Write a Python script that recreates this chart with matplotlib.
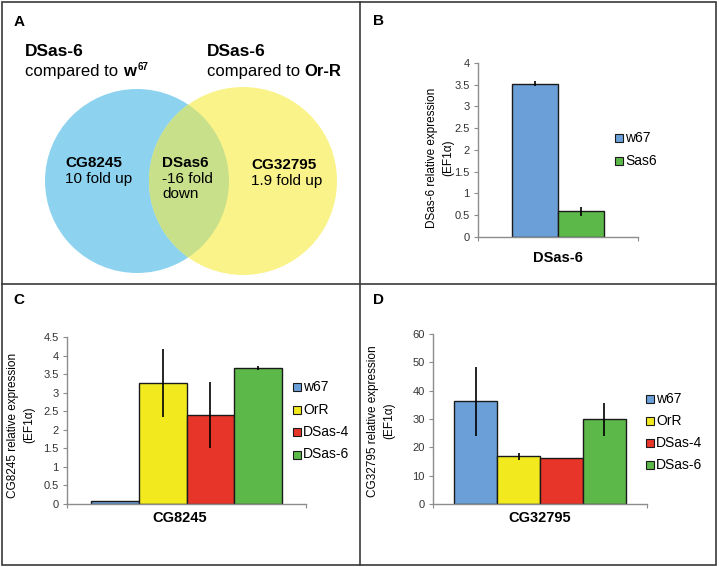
import matplotlib
matplotlib.use("Agg")
import matplotlib.pyplot as plt
from matplotlib.patches import Circle, Rectangle
from matplotlib.ticker import FuncFormatter

plt.rcParams["font.family"] = ["Liberation Sans", "DejaVu Sans"]

W, H = 719, 567

# panel A: Venn labels
venn_left_gene, venn_left_fold = "CG8245", "10 fold up"
venn_mid_gene, venn_mid_fold = "DSas6", "-16 fold\ndown"
venn_right_gene, venn_right_fold = "CG32795", "1.9 fold up"

# panel B
b_labels = ["w67", "Sas6"]
b_values = [3.52, 0.59]
b_errors = [0.06, 0.10]

# panels C and D
cd_labels = ["w67", "OrR", "DSas-4", "DSas-6"]
c_values = [0.08, 3.26, 2.40, 3.66]
c_errors = [0.0, 0.91, 0.90, 0.05]
d_values = [36.3, 16.9, 16.3, 29.9]
d_errors = [12.2, 1.2, 0.0, 5.8]

bar_colors = {"w67": "#6a9fd8", "Sas6": "#5cb848", "OrR": "#f2ea1e",
              "DSas-4": "#e8352a", "DSas-6": "#5cb848"}

fig = plt.figure(figsize=(W / 100, H / 100), dpi=100)
bg = fig.add_axes([0, 0, 1, 1], zorder=0)
bg.set_xlim(0, W)
bg.set_ylim(H, 0)
bg.axis("off")

# frames
border = "#3a3a3a"
bg.add_patch(Rectangle((2, 2), 714, 563, fill=False, lw=1.2, ec=border))
bg.plot([360, 360], [2, 565], color=border, lw=1.2)
bg.plot([2, 716], [284, 284], color=border, lw=1.2)

# panel letters
for letter, (x, y) in {"A": (14, 22), "B": (373, 21), "C": (13, 300), "D": (373, 300)}.items():
    bg.text(x, y, letter, fontsize=11, fontweight="bold", va="center", ha="left")

# Venn circles
blue = Circle((137, 181), 92, fc="#8dd3f0", ec="none")
yellow = Circle((243, 181), 94, fc="#faf38a", ec="none")
bg.add_patch(blue)
bg.add_patch(yellow)
overlap = Circle((243, 181), 94, fc="#c8e08a", ec="none")
bg.add_patch(overlap)
overlap.set_clip_path(blue)

fig.canvas.draw()
renderer = fig.canvas.get_renderer()


def text_run(x, y, parts):
    # draw text pieces one after another on the same baseline
    for s, kw in parts:
        t = bg.text(x, y, s, va="baseline", ha="left", **kw)
        ext = t.get_window_extent(renderer)
        x += ext.width
    return x


bg.text(25, 56, "DSas-6", fontsize=12.5, fontweight="bold", va="baseline")
xe = text_run(25, 76, [("compared to ", dict(fontsize=12)), ("w", dict(fontsize=12, fontweight="bold"))])
bg.text(xe + 2, 70, "67", fontsize=7, fontweight="bold", va="baseline")
bg.text(207, 56, "DSas-6", fontsize=12.5, fontweight="bold", va="baseline")
text_run(207, 76, [("compared to ", dict(fontsize=12)), ("Or-R", dict(fontsize=12, fontweight="bold"))])

for (gene, fold), x, y in [((venn_left_gene, venn_left_fold), 65, 163),
                           ((venn_mid_gene, venn_mid_fold), 162, 163),
                           ((venn_right_gene, venn_right_fold), 251, 165)]:
    bg.text(x, y, gene, fontsize=11, fontweight="bold", va="center", ha="left")
    bg.text(x, y + 9, fold, fontsize=11, va="top", ha="left", linespacing=1.1)


def bar_panel(box, labels, values, errors, ymax, ystep, ylabel, ylabel_xy, xlabel, xlabel_xy,
              leg_x, leg_y0, leg_dy):
    x0, y0, x1, y1 = box
    ax = fig.add_axes([x0 / W, 1 - y1 / H, (x1 - x0) / W, (y1 - y0) / H], zorder=1)
    ax.set_facecolor("none")
    n = len(values)
    width = 0.80 / n if n > 2 else 0.2875
    xs = [0.5 + (i - (n - 1) / 2) * width for i in range(n)]
    cols = [bar_colors[l] for l in labels]
    ax.bar(xs, values, width=width, color=cols, edgecolor="#1a1a1a", linewidth=1.0, zorder=2)
    ax.errorbar(xs, values, yerr=errors, fmt="none", ecolor="black", elinewidth=1.2, capsize=0, zorder=3)
    ax.set_xlim(0, 1)
    ax.set_ylim(0, ymax)
    ticks = [i * ystep for i in range(int(round(ymax / ystep)) + 1)]
    ax.set_yticks(ticks)
    ax.yaxis.set_major_formatter(FuncFormatter(lambda v, p: f"{v:g}"))
    ax.set_xticks([0, 1])
    ax.set_xticklabels([])
    for s in ["top", "right"]:
        ax.spines[s].set_visible(False)
    for s in ["left", "bottom"]:
        ax.spines[s].set_color("#8c8c8c")
        ax.spines[s].set_linewidth(1.0)
    ax.tick_params(axis="both", direction="out", length=3, width=0.8, color="#8c8c8c",
                   labelsize=8, labelcolor="#333333", pad=3)
    # two-line rotated y label, one text per line
    lx, ly = ylabel_xy
    for k, line in enumerate(ylabel):
        bg.text(lx + k * 16, ly, line, rotation=90, fontsize=8.5, ha="center", va="center")
    bg.text(*xlabel_xy, xlabel, fontsize=10.5, fontweight="bold", ha="center", va="center")
    for i, lab in enumerate(labels):
        yy = leg_y0 + i * leg_dy
        bg.add_patch(Rectangle((leg_x, yy - 4), 8, 8, fc=bar_colors[lab], ec="#1a1a1a", lw=0.8))
        bg.text(leg_x + 10, yy, lab, fontsize=10, va="center", ha="left")
    return ax


bar_panel((478, 63, 638, 237), b_labels, b_values, b_errors, 4, 0.5,
          ["DSas-6 relative expression", "(EF1\u03b1)"], (432, 158), "DSas-6", (558, 258),
          615, 138, 23)
bar_panel((67, 337, 306, 504), cd_labels, c_values, c_errors, 4.5, 0.5,
          ["CG8245 relative expression", "(EF1\u03b1)"], (13, 425), "CG8245", (180, 518),
          293, 387, 22.5)
bar_panel((433, 334, 647, 504), cd_labels, d_values, d_errors, 60, 10,
          ["CG32795 relative expression", "(EF1\u03b1)"], (373, 421), "CG32795", (540, 518),
          646, 399, 22)

fig.savefig("out.png", dpi=100)
